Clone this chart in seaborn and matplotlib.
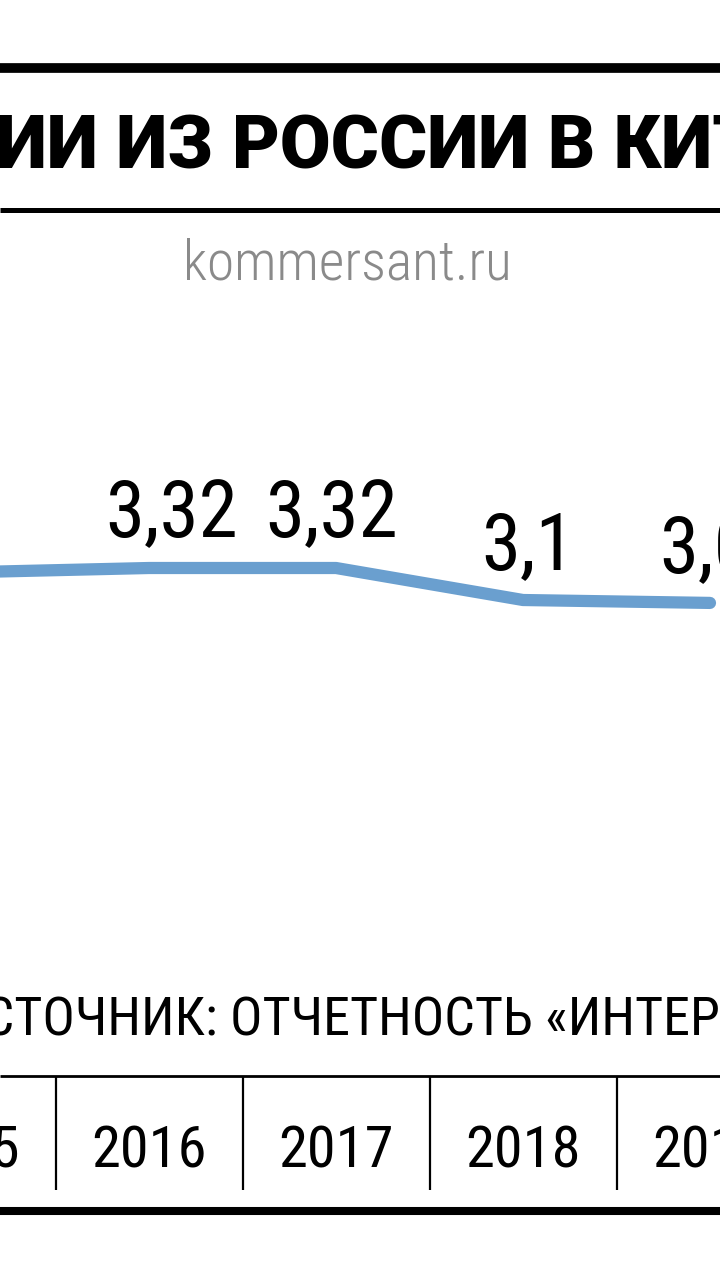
import os
import glob
import numpy as np
import pandas as pd
import seaborn as sns
import matplotlib.pyplot as plt
from matplotlib import font_manager as fm

years = [2015, 2016, 2017, 2018, 2019]
values = [3.29, 3.32, 3.32, 3.1, 3.08]
value_labels = ['3,29', '3,32', '3,32', '3,1', '3,08']
year_labels = ['2015', '2016', '2017', '2018', '2019']
title = 'ИИ ИЗ РОССИИ В КИТАЙ'
source = 'ИСТОЧНИК: ОТЧЕТНОСТЬ «ИНТЕР РАО»'
site = 'kommersant.ru'

sns.set_style('white')
plt.rcParams['font.family'] = ['Liberation Sans', 'DejaVu Sans']

# look for condensed / heavy faces among the installed fonts
font_files = [f.fname for f in fm.fontManager.ttflist]
for d in ['/usr/share/fonts', '/usr/local/share/fonts', os.path.expanduser('~/.fonts')]:
    font_files += glob.glob(d + '/**/*.[ot]tf', recursive=True)
font_files = sorted(set(font_files))


def pick(patterns, fallback_weight='normal'):
    for p in patterns:
        for f in font_files:
            b = os.path.basename(f).lower()
            if b.startswith(p) and 'italic' not in b:
                return fm.FontProperties(fname=f)
    return fm.FontProperties(family=['Liberation Sans', 'DejaVu Sans'],
                             weight=fallback_weight)


narrow = pick(['robotocondensed-regular', 'liberationsansnarrow-regular',
               'robotocondensed', 'dejavusanscondensed.'])
light = pick(['robotocondensed-light', 'robotocondensed-regular',
              'liberationsansnarrow-regular', 'dejavusanscondensed.'])
heavy = pick(['roboto-black.', 'roboto-black', 'liberationsans-bold.'], 'bold')

W, H = 720, 1280
fig = plt.figure(figsize=(7.2, 12.8), dpi=100)
ax = fig.add_axes([0, 0, 1, 1])
ax.set_axis_off()

# pixel mapping: year -> x px, value -> y px (from top)
ax.set_xlim(2016 - 149 / 187, 2016 + 571 / 187)
ax.set_ylim(3.32 - 712 / 145.5, 3.32 + 568 / 145.5)


def fy(px):
    return 1 - px / H


df = pd.DataFrame({'year': years, 'value': values})
sns.lineplot(data=df, x='year', y='value', ax=ax, color='#6a9fcf', linewidth=8.8)

# value labels (px shifts so the cut labels at the edges show as in the source)
label_dx = [-12, 23, -4, 5, 16]
for x, v, lab, dx in zip(years, values, value_labels, label_dx):
    ax.annotate(lab, (x, v), xytext=(dx * 0.72, 22), textcoords='offset points',
                ha='center', va='baseline', fontproperties=narrow, fontsize=57,
                color='black')

# header
ax.plot([0, 1], [fy(68), fy(68)], transform=ax.transAxes, color='black', lw=7,
        solid_capstyle='butt')
ax.plot([0, 1], [fy(210), fy(210)], transform=ax.transAxes, color='black', lw=3.6,
        solid_capstyle='butt')
ax.text(-4 / W, fy(167), title, transform=ax.transAxes, ha='left', va='baseline',
        fontproperties=heavy, fontsize=53, color='black')
ax.text(347 / W, fy(280), site, transform=ax.transAxes, ha='center', va='baseline',
        fontproperties=light, fontsize=40, color='#8a8a8a')

# source
ax.text(-50 / W, fy(1036), source, transform=ax.transAxes, ha='left', va='baseline',
        fontproperties=narrow, fontsize=39, color='black')

# year table
ax.plot([0, 1], [fy(1076), fy(1076)], transform=ax.transAxes, color='black', lw=2,
        solid_capstyle='butt')
ax.plot([0, 1], [fy(1211), fy(1211)], transform=ax.transAxes, color='black', lw=5.8,
        solid_capstyle='butt')
dividers = [y + 0.5 for y in years[:-1]]
ax.vlines(dividers, fy(1190), fy(1076), transform=ax.get_xaxis_transform(),
          color='black', lw=1.6)
for x, lab in zip(years, year_labels):
    ax.text(x, fy(1168), lab, transform=ax.get_xaxis_transform(), ha='center',
            va='baseline', fontproperties=narrow, fontsize=42, color='black')

fig.savefig('out.png', dpi=100, facecolor='white')
